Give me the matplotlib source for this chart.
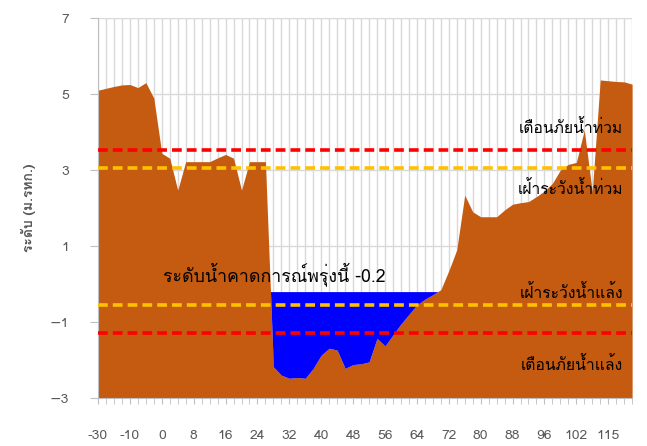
import matplotlib
matplotlib.use('Agg')
import matplotlib.pyplot as plt
from matplotlib import font_manager
from matplotlib.ft2font import FT2Font
import numpy as np

# chainage of each cross-section (category axis)
stations = [-30, -25, -20, -15, -10, -8, -5, -2,
            0, 2, 4, 6, 8, 10, 12, 14, 16, 18, 20, 22, 24, 26, 28, 30,
            32, 34, 36, 38, 40, 42, 44, 46, 48, 50, 52, 54, 56, 58, 60, 62,
            64, 66, 68, 70, 72, 74, 76, 78, 80, 82, 84, 86, 88, 90, 92, 94,
            96, 98, 100, 101, 102, 105, 108, 112, 115, 118, 121, 124]

# bed / bank level (m MSL)
bed_level = [5.10, 5.15, 5.20, 5.24, 5.25, 5.17, 5.30, 4.89,
             3.44, 3.31, 2.47, 3.22, 3.22, 3.22, 3.22, 3.32, 3.41, 3.31, 2.47, 3.22,
             3.22, 3.22, -2.18, -2.40, -2.48, -2.46, -2.48, -2.22, -1.87, -1.69,
             -1.74, -2.22, -2.12, -2.10, -2.05, -1.43, -1.63, -1.34, -1.05, -0.80,
             -0.55, -0.40, -0.28, -0.15, 0.35, 0.90, 2.34, 1.90, 1.77, 1.77,
             1.77, 1.95, 2.10, 2.14, 2.17, 2.30, 2.45, 2.65, 3.00, 3.15,
             3.20, 4.05, 2.43, 5.37, 5.35, 5.33, 5.32, 5.26]

forecast = -0.2
flood_warn = 3.53
flood_watch = 3.06
drought_watch = -0.55
drought_warn = -1.28


def thai_font():
    # find an installed font that has Thai glyphs
    for f in font_manager.fontManager.ttflist:
        try:
            if 0x0E01 in FT2Font(f.fname).get_charmap():
                return f.name
        except Exception:
            pass
    return 'DejaVu Sans'


fam = [thai_font(), 'DejaVu Sans']
plt.rcParams['font.family'] = fam

x = np.arange(len(stations))
y = np.array(bed_level)

fig = plt.figure(figsize=(6.47, 4.46), dpi=100)
ax = fig.add_axes([0.1515, 0.1076, 0.977 - 0.1515, 0.9596 - 0.1076])

ax.fill_between(x, -3, y, color='#C55A11', lw=0, zorder=2)
ax.fill_between(x, y, forecast, where=y < forecast, interpolate=True,
                color='#0000FF', lw=0, zorder=2)

for lev, col in [(flood_warn, '#FF0000'), (flood_watch, '#FFC000'),
                 (drought_watch, '#FFC000'), (drought_warn, '#FF0000')]:
    ax.axhline(lev, color=col, lw=2.6, dashes=(2.7, 1.4), zorder=3)

ax.set_xlim(0, len(stations) - 1)
ax.set_ylim(-3, 7)
ax.set_yticks([-3, -1, 1, 3, 5, 7])
ax.set_xticks(x, minor=True)
ax.set_xticks(x[::4])
ax.set_xticklabels([str(s) for s in stations[::4]])
ax.grid(True, which='both', axis='x', color='#D9D9D9', lw=1, zorder=0)
ax.grid(True, which='major', axis='y', color='#D9D9D9', lw=1, zorder=0)
ax.set_axisbelow(True)

for s in ['top', 'right']:
    ax.spines[s].set_visible(False)
for s in ['left', 'bottom']:
    ax.spines[s].set_color('#BFBFBF')
ax.tick_params(axis='both', which='both', colors='#BFBFBF', labelcolor='#595959',
               labelsize=10)
ax.tick_params(axis='x', which='both', length=4, pad=19)
ax.tick_params(axis='y', length=6, pad=15)

ax.set_ylabel('ระดับ (ม.รทก.)', color='#595959', fontsize=10, fontweight='bold',
              labelpad=10)

ax.text(8.1, forecast + 0.15, 'ระดับน้ำคาดการณ์พรุ่งนี้ %.1f' % forecast,
        fontsize=12.8, color='black', va='bottom', ha='left', zorder=4)
ax.text(65.9, flood_warn + 0.6, 'เตือนภัยน้ำท่วม', fontsize=11.3, ha='right',
        va='center', zorder=4)
ax.text(65.9, flood_watch - 0.55, 'เฝ้าระวังน้ำท่วม', fontsize=11.3, ha='right',
        va='center', zorder=4)
ax.text(65.9, drought_watch + 0.33, 'เฝ้าระวังน้ำแล้ง', fontsize=11.3, ha='right',
        va='center', zorder=4)
ax.text(65.9, drought_warn - 0.85, 'เตือนภัยน้ำแล้ง', fontsize=11.3, ha='right',
        va='center', zorder=4)

fig.savefig('out.png', dpi=100)
